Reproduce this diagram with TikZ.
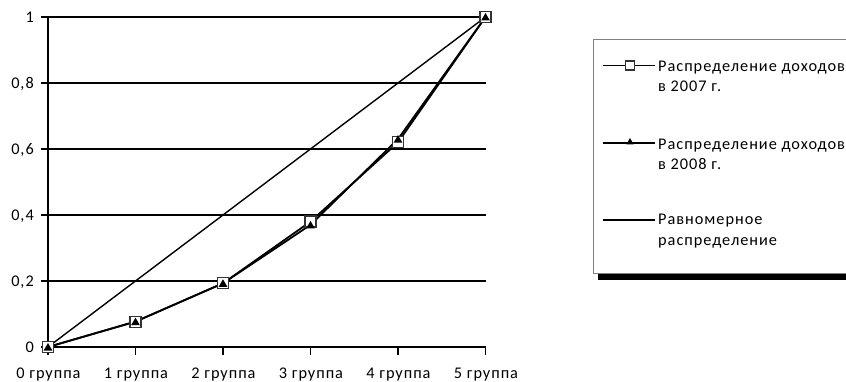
\documentclass[tikz,border=0pt]{standalone}
\usepackage{fontspec}
\setmainfont[LetterSpace=6]{Carlito}
\usetikzlibrary{shapes.geometric}
\begin{document}
\begin{tikzpicture}[x=1pt,y=-1pt,
  font=\fontsize{16.3}{20}\selectfont,
  grid/.style={line width=1.4pt},
  axis/.style={line width=1.8pt},
  series/.style={line width=1.8pt},
  unif/.style={line width=1.4pt},
  sqmark/.style={draw=black!80,fill=white,line width=1.2pt,minimum size=11pt,inner sep=0pt},
  trimark/.style={regular polygon,regular polygon sides=3,fill=black,minimum size=10pt,inner sep=0pt},
  lsq/.style={draw=black!80,fill=white,line width=1.1pt,minimum size=9pt,inner sep=0pt},
  ltri/.style={regular polygon,regular polygon sides=3,fill=black,minimum size=8.5pt,inner sep=0pt},
  ylab/.style={anchor=base east,inner sep=0pt},
  xlab/.style={anchor=base,inner sep=0pt},
  legtext/.style={anchor=base west,inner sep=0pt}]
\useasboundingbox (0,0) rectangle (846,382);
\clip (0,0) rectangle (846,382);
\fill[white] (0,0) rectangle (846,382);
% grid lines
\foreach \yy in {17,83,149,215,281}{\draw[grid] (41,\yy) -- (486,\yy);}
% axes
\coordinate (o) at (48,347);
\coordinate (top) at (48,17);
\coordinate (xe) at (486,347);
\draw[axis] (41,347) -- (xe);
\draw[axis] (o) -- (top);
\foreach \xx in {48,135.5,223,310.5,398,485.5}{\draw[axis] (\xx,347) -- (\xx,355);}
% y labels
\node[ylab] (y0) at (34,352.3) {0};
\node[ylab] (y1) at (34,286.3) {0,2};
\node[ylab] (y2) at (34,220.3) {0,4};
\node[ylab] (y3) at (34,154.3) {0,6};
\node[ylab] (y4) at (34,88.3) {0,8};
\node[ylab] (y5) at (34,22.3) {1};
% x labels
\node[xlab] (x0) at (48.5,378) {0 группа};
\node[xlab] (x1) at (136,378) {1 группа};
\node[xlab] (x2) at (223.5,378) {2 группа};
\node[xlab] (x3) at (311,378) {3 группа};
\node[xlab] (x4) at (398.5,378) {4 группа};
\node[xlab] (x5) at (486,378) {5 группа};
% data points
\coordinate (p0) at (48,347);
\coordinate (p1) at (135.5,321.6);
\coordinate (p2) at (223,283.3);
\coordinate (p3) at (310.5,221.6);
\coordinate (p4) at (398,142.4);
\coordinate (p5) at (485.5,17);
\coordinate (q0) at (48,347);
\coordinate (q1) at (135.5,321.6);
\coordinate (q2) at (223,283.3);
\coordinate (q3) at (310.5,224.9);
\coordinate (q4) at (398,139.1);
\coordinate (q5) at (485.5,17);
% uniform
\draw[unif] (p0) -- (p5);
% series
\draw[series] (q0) -- (q1) -- (q2) -- (q3) -- (q4) -- (q5);
\draw[series] (p0) -- (p1) -- (p2) -- (p3) -- (p4) -- (p5);
\foreach \i in {0,...,5}{\node[sqmark] (s\i) at (p\i) {};}
\foreach \i in {0,...,5}{\node[trimark] (t\i) at ([yshift=-1pt]q\i) {};}
% legend
\fill[black] (598,274) rectangle (850,279.5);
\draw[draw=black!50,fill=white,line width=1pt] (593.5,39.5) rectangle (850,273);
\coordinate (la1) at (603,65.5);
\coordinate (lb1) at (655,65.5);
\draw[series] (la1) -- (lb1);
\node[lsq] (lm1) at (630,65.5) {};
\node[legtext] (lt1a) at (658,71.7) {Распределение доходов};
\node[legtext] (lt1b) at (658,91.7) {в 2007 г.};
\coordinate (la2) at (603,143.3);
\coordinate (lb2) at (655,143.3);
\draw[series] (la2) -- (lb2);
\node[ltri] (lm2) at (630,142.3) {};
\node[legtext] (lt2a) at (658,149.3) {Распределение доходов};
\node[legtext] (lt2b) at (658,169.3) {в 2008 г.};
\coordinate (la3) at (603,220);
\coordinate (lb3) at (655,220);
\draw[series] (la3) -- (lb3);
\node[legtext] (lt3a) at (658,225) {Равномерное};
\node[legtext] (lt3b) at (658,245.5) {распределение};
\end{tikzpicture}
\end{document}
